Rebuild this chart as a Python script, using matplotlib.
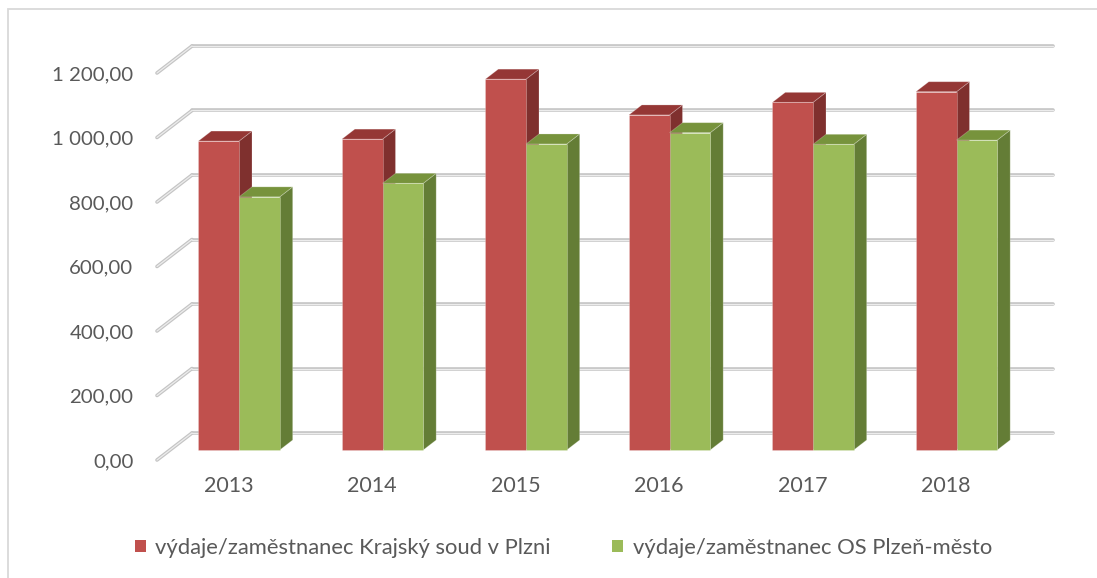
import matplotlib
matplotlib.use("Agg")
import matplotlib.pyplot as plt
from matplotlib.patches import Polygon, Patch, Rectangle

# ---------------- data ----------------
years = ['2013', '2014', '2015', '2016', '2017', '2018']
krajsky = [958, 964, 1150, 1039, 1078, 1111]
os_plzen = [785, 827, 949, 984, 948, 961]
series_labels = ['výdaje/zaměstnanec Krajský soud v Plzni',
                 'výdaje/zaměstnanec OS Plzeň-město']
yticks = [0, 200, 400, 600, 800, 1000, 1200]

# ---------------- style ----------------
FONT = ['Lato', 'DejaVu Sans']
TXT = '#595959'
plt.rcParams['font.family'] = FONT

red = dict(front='#C0504D', top='#953735', side='#7F302E')
green = dict(front='#9BBB59', top='#77933C', side='#647D36')

W, H, DPI = 1097, 578, 100
fig = plt.figure(figsize=(W / DPI, H / DPI), dpi=DPI)

# axes geometry (pixels)
px_x = 143.5          # pixels per category
px_y = 64.5 / 200     # pixels per value unit
x0_px, y0_px = 157, 460
xlim = (-0.5, 5.8)
ylim = (0, 1300)
ax = fig.add_axes([x0_px / W, (H - y0_px) / H,
                   (xlim[1] - xlim[0]) * px_x / W,
                   (ylim[1] - ylim[0]) * px_y / H])
ax.set_xlim(*xlim)
ax.set_ylim(*ylim)
for s in ax.spines.values():
    s.set_visible(False)

# depth of the 3D box (in data units)
DX = 35 / px_x
DY = 27 / px_y
f1, f2 = 0.37, 0.74   # bar front / back depth fraction
BW = 0.2836
GOFF = -0.0185

n = len(years)
# gridlines on back wall + left floor diagonal
for v in yticks:
    xs_back = [-0.5 + DX, n - 0.5 + DX]
    ys_back = [v + DY, v + DY]
    xs_diag = [-0.5, -0.5 + DX]
    ys_diag = [v, v + DY]
    for xs, ys in ((xs_back, ys_back), (xs_diag, ys_diag)):
        ax.plot(xs, ys, color='#c4c4c4', lw=2.6, solid_capstyle='round',
                zorder=1, clip_on=False)
        ax.plot(xs, ys, color='#ececec', lw=0.9, solid_capstyle='round',
                zorder=1.1, clip_on=False)


def bar3d(xl, val, cols, z):
    xr = xl + BW
    ox1, oy1 = f1 * DX, f1 * DY
    ox2, oy2 = f2 * DX, f2 * DY
    side = Polygon([(xr + ox1, oy1), (xr + ox2, oy2),
                    (xr + ox2, val + oy2), (xr + ox1, val + oy1)],
                   closed=True, facecolor=cols['side'],
                   edgecolor=(1, 1, 1, 0.25), lw=0.6, zorder=z, clip_on=False)
    top = Polygon([(xl + ox1, val + oy1), (xr + ox1, val + oy1),
                   (xr + ox2, val + oy2), (xl + ox2, val + oy2)],
                  closed=True, facecolor=cols['top'],
                  edgecolor=(1, 1, 1, 0.25), lw=0.6, zorder=z, clip_on=False)
    ax.add_patch(side)
    ax.add_patch(top)
    ax.bar(xl + ox1, val, width=BW, bottom=oy1, align='edge',
           color=cols['front'], edgecolor=(1, 1, 1, 0.25), lw=0.6,
           zorder=z + 0.1, clip_on=False)


for i in range(n):
    bar3d(i + GOFF - BW, krajsky[i], red, 2 + i)
    bar3d(i + GOFF, os_plzen[i], green, 2.5 + i)

# axis labels
def fmt(v):
    s = f"{v:,.2f}"
    return s.replace(',', ' ').replace('.', ',')

ax.set_yticks(yticks)
ax.set_yticklabels([fmt(v) for v in yticks])
ax.set_xticks(range(n))
ax.set_xticklabels(years)
ax.tick_params(axis='y', length=0, pad=17, labelsize=14.7, labelcolor=TXT)
ax.tick_params(axis='x', length=0, pad=11.5, labelsize=15.5, labelcolor=TXT)

# legend
handles = [Patch(facecolor=red['front']), Patch(facecolor=green['front'])]
leg = fig.legend(handles, series_labels, loc='center left',
                 bbox_to_anchor=(135 / W, 1 - 548 / H), ncol=2,
                 frameon=False, fontsize=15.8, labelcolor=TXT,
                 handlelength=0.48, handleheight=0.48, handletextpad=0.45,
                 columnspacing=2.8, borderpad=0, borderaxespad=0)

# chart border (top/left visible)
fig.add_artist(Rectangle((8 / W, -0.1), 1.2, (H - 9) / H + 0.1,
                         transform=fig.transFigure, fill=False,
                         edgecolor='#d9d9d9', lw=1.3))

fig.savefig('out.png', dpi=DPI, facecolor='white')
